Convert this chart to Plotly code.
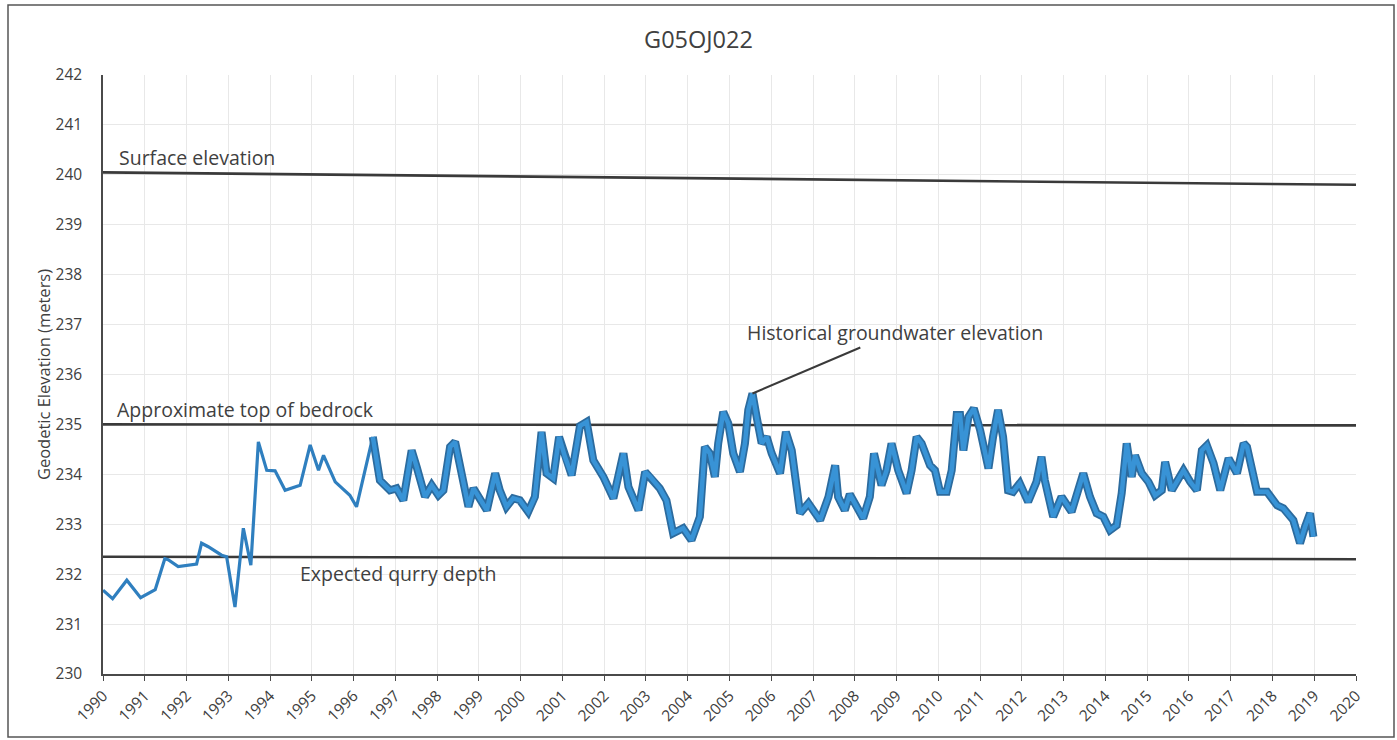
import plotly.graph_objects as go

# ---------------- data ----------------
title_text = "G05OJ022"
y_title = "Geodetic Elevation (meters)"
year_ticks = list(range(1990, 2021))
year_labels = [str(y) for y in year_ticks]

# reference lines
ref_x = [1990.0, 2020.0]
surface_y = [240.05, 239.80]
bedrock_y = [235.00, 234.98]
quarry_y = [232.35, 232.30]

# sparse early groundwater record
early_x = [1990.00, 1990.23, 1990.57, 1990.90, 1991.25, 1991.48, 1991.56, 1991.80,
           1992.24, 1992.36, 1992.52, 1992.84, 1992.96, 1993.16, 1993.36, 1993.54,
           1993.72, 1993.92, 1994.12, 1994.36, 1994.72, 1994.96, 1995.16, 1995.28,
           1995.56, 1995.91, 1996.07, 1996.46]
early_y = [231.68, 231.51, 231.88, 231.53, 231.69, 232.31, 232.29, 232.15,
           232.20, 232.62, 232.55, 232.38, 232.35, 231.34, 232.92, 232.18,
           234.65, 234.08, 234.07, 233.68, 233.78, 234.59, 234.08, 234.38,
           233.85, 233.58, 233.35, 234.75]

# dense groundwater record
dense_x = [1996.46, 1996.63, 1996.87, 1997.03, 1997.19, 1997.39, 1997.51, 1997.71,
           1997.87, 1998.03, 1998.15, 1998.31, 1998.43, 1998.55, 1998.75, 1998.87,
           1999.03, 1999.19, 1999.39, 1999.50, 1999.66, 1999.82, 1999.98, 2000.18,
           2000.34, 2000.50, 2000.62, 2000.78, 2000.92, 2001.06, 2001.22, 2001.42,
           2001.58, 2001.74, 2001.98, 2002.22, 2002.46, 2002.58, 2002.82, 2002.98,
           2003.10, 2003.33, 2003.49, 2003.65, 2003.89, 2004.09, 2004.29, 2004.41,
           2004.53, 2004.65, 2004.73, 2004.85, 2004.97, 2005.09, 2005.25, 2005.37,
           2005.45, 2005.55, 2005.65, 2005.77, 2005.89, 2006.01, 2006.21, 2006.35,
           2006.49, 2006.69, 2006.89, 2007.17, 2007.37, 2007.53, 2007.60, 2007.76,
           2007.88, 2008.20, 2008.36, 2008.46, 2008.64, 2008.76, 2008.88, 2009.04,
           2009.24, 2009.36, 2009.48, 2009.60, 2009.80, 2009.92, 2010.04, 2010.20,
           2010.32, 2010.44, 2010.52, 2010.60, 2010.72, 2010.85, 2011.00, 2011.20,
           2011.31, 2011.43, 2011.55, 2011.67, 2011.79, 2011.95, 2012.15, 2012.35,
           2012.47, 2012.55, 2012.75, 2012.95, 2013.19, 2013.47, 2013.63, 2013.79,
           2013.95, 2014.11, 2014.27, 2014.39, 2014.51, 2014.63, 2014.71, 2014.87,
           2015.03, 2015.19, 2015.35, 2015.43, 2015.59, 2015.87, 2016.03, 2016.19,
           2016.31, 2016.43, 2016.59, 2016.75, 2016.95, 2017.15, 2017.31, 2017.39,
           2017.63, 2017.87, 2018.11, 2018.26, 2018.50, 2018.66, 2018.78, 2018.90,
           2018.98]
dense_y = [234.75, 233.88, 233.68, 233.72, 233.48, 234.48, 234.15, 233.55,
           233.78, 233.58, 233.68, 234.55, 234.65, 234.15, 233.35, 233.72,
           233.48, 233.28, 234.02, 233.68, 233.35, 233.52, 233.48, 233.25,
           233.55, 234.85, 234.02, 233.92, 234.75, 234.35, 233.98, 234.97,
           235.05, 234.28, 233.95, 233.52, 234.42, 233.75, 233.28, 234.05,
           233.95, 233.72, 233.48, 232.82, 232.92, 232.68, 233.15, 234.55,
           234.42, 233.95, 234.62, 235.25, 235.02, 234.42, 234.05, 234.62,
           235.29, 235.62, 235.15, 234.62, 234.75, 234.42, 234.02, 234.85,
           234.48, 233.22, 233.42, 233.08, 233.55, 234.18, 233.55, 233.28,
           233.60, 233.12, 233.55, 234.42, 233.78, 234.08, 234.62, 234.08,
           233.62, 234.08, 234.75, 234.62, 234.18, 234.08, 233.65, 233.65,
           234.08, 235.19, 235.19, 234.48, 235.15, 235.32, 234.89, 234.12,
           234.75, 235.29, 234.75, 233.68, 233.65, 233.82, 233.45, 233.85,
           234.35, 233.88, 233.15, 233.55, 233.25, 234.02, 233.55, 233.22,
           233.15, 232.88, 232.98, 233.62, 234.62, 233.95, 234.38, 234.02,
           233.85, 233.58, 233.68, 234.25, 233.68, 234.08, 233.85, 233.68,
           234.48, 234.58, 234.22, 233.68, 234.32, 234.02, 234.62, 234.55,
           233.65, 233.65, 233.38, 233.32, 233.08, 232.62, 232.95, 233.22,
           232.75]

# ---------------- styling ----------------
W, H = 1397, 740
ML, MR, MT, MB = 103, 41, 75, 66
TXT = "#404040"
LINE_DARK = "#3a3a3a"
FONT = "'Open Sans', sans-serif"

fig = go.Figure()

for yy in (surface_y, bedrock_y, quarry_y):
    fig.add_trace(go.Scatter(x=ref_x, y=yy, mode="lines",
                             line=dict(color=LINE_DARK, width=2.6),
                             hoverinfo="skip", showlegend=False))

fig.add_trace(go.Scatter(x=early_x, y=early_y, mode="lines",
                         line=dict(color="#2f7fbf", width=3.2),
                         showlegend=False))
fig.add_trace(go.Scatter(x=dense_x, y=dense_y, mode="lines",
                         line=dict(color="#2c6b9e", width=8),
                         showlegend=False, hoverinfo="skip"))
fig.add_trace(go.Scatter(x=dense_x, y=dense_y, mode="lines",
                         line=dict(color="#3893d6", width=4.5),
                         showlegend=False))

fig.update_layout(
    width=W, height=H,
    margin=dict(l=ML, r=MR, t=MT, b=MB),
    paper_bgcolor="white", plot_bgcolor="white",
    font=dict(family=FONT, color=TXT),
    title=dict(text=title_text, x=0.5, xanchor="center", y=1 - 40 / H,
               yanchor="middle", font=dict(size=23.5, color=TXT)),
    showlegend=False,
)

fig.update_xaxes(
    range=[1990, 2020], tickmode="array", tickvals=year_ticks, ticktext=year_labels,
    tickangle=-45, tickfont=dict(size=15.5, color=TXT),
    showgrid=True, gridcolor="#e8e8e8", gridwidth=1,
    showline=True, linecolor="#4a4a4a", linewidth=1.5,
    ticks="outside", ticklen=5, tickcolor="#4a4a4a",
    zeroline=False, automargin=False,
)
fig.update_yaxes(
    range=[230, 242], tickmode="array", tickvals=list(range(230, 243)),
    tickfont=dict(size=15.5, color=TXT),
    showgrid=True, gridcolor="#e8e8e8", gridwidth=1,
    showline=True, linecolor="#4a4a4a", linewidth=1.5,
    ticks="", ticklabelstandoff=16,
    title=dict(text=y_title, font=dict(size=16.5, color=TXT), standoff=1),
    zeroline=False, automargin=False,
)

# outer frame
pw = W - ML - MR
ph = H - MT - MB
fig.add_shape(type="rect", xref="paper", yref="paper",
              x0=(8 - ML) / pw, x1=(1394 - ML) / pw,
              y0=(H - MB - 737) / ph, y1=(H - MB - 5) / ph,
              line=dict(color="#555555", width=1.5), layer="below")

ann_font = dict(size=19.5, color=TXT, family=FONT)
fig.add_annotation(x=1990.33, y=240.05, text="Surface elevation", showarrow=False,
                   xanchor="left", yanchor="bottom", yshift=-1, font=ann_font)
fig.add_annotation(x=1990.28, y=235.0, text="Approximate top of bedrock", showarrow=False,
                   xanchor="left", yanchor="bottom", yshift=-1, font=ann_font)
fig.add_annotation(x=1994.67, y=232.33, text="Expected qurry depth", showarrow=False,
                   xanchor="left", yanchor="top", yshift=0, font=ann_font)
fig.add_annotation(x=2005.55, y=235.62, text="Historical groundwater elevation",
                   showarrow=True, arrowhead=0, arrowwidth=2, arrowcolor=LINE_DARK,
                   ax=143, ay=-61, xanchor="center", yanchor="middle",
                   standoff=0, font=ann_font)

fig.write_html("out.html", config={"displayModeBar": False},
               post_script="document.body.style.margin='0';document.body.style.overflow='hidden';")
